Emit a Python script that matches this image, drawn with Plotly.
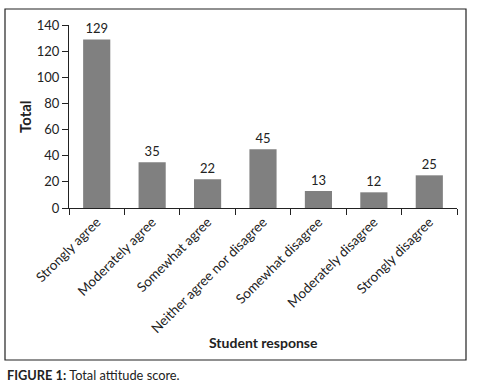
import plotly.graph_objects as go

categories = ["Strongly agree", "Moderately agree", "Somewhat agree",
              "Neither agree nor disagree", "Somewhat disagree",
              "Moderately disagree", "Strongly disagree"]
totals = [129, 35, 22, 45, 13, 12, 25]
y_ticks = [0, 20, 40, 60, 80, 100, 120, 140]

FONT = "Lato, Open Sans, sans-serif"
W, H = 480, 388
L, R, T, B = 69, 23, 25, 180
pw, ph = W - L - R, H - T - B

def px(x):
    return (x - L) / pw

def py(y):
    return (H - B - y) / ph

fig = go.Figure(go.Bar(
    x=categories, y=totals, width=0.49,
    marker=dict(color="#808080", line=dict(width=0)),
    text=[str(v) for v in totals], textposition="outside",
    textfont=dict(family=FONT, size=13, color="#222"),
    cliponaxis=False,
))

fig.update_layout(
    width=W, height=H,
    margin=dict(l=L, r=R, t=T, b=B, autoexpand=False),
    paper_bgcolor="white", plot_bgcolor="white",
    font=dict(family=FONT, size=11, color="#222"),
    showlegend=False,
    xaxis=dict(
        showline=True, linecolor="#222", linewidth=1,
        ticks="outside", ticklen=6, tickcolor="#222", tickson="boundaries",
        tickangle=-45, tickfont=dict(size=13.5, family=FONT, color="#222"),
        showgrid=False, automargin=False,
    ),
    yaxis=dict(
        range=[0, 140], tickvals=y_ticks,
        showline=True, linecolor="#222", linewidth=1,
        ticks="outside", ticklen=6, tickcolor="#222",
        tickfont=dict(size=13, family=FONT, color="#222"),
        showgrid=False, zeroline=False, automargin=False,
    ),
    shapes=[dict(type="rect", xref="paper", yref="paper", layer="above",
                 x0=px(5), x1=px(466), y0=py(360), y1=py(9),
                 line=dict(color="#222", width=1.2))],
    annotations=[
        dict(text="<b>Total</b>", xref="paper", yref="paper",
             x=px(25), y=py(117), textangle=-90, showarrow=False,
             font=dict(size=15, family=FONT, color="#222"),
             xanchor="center", yanchor="middle"),
        dict(text="<b>Student response</b>", xref="paper", yref="paper",
             x=px(263), y=py(342), showarrow=False,
             font=dict(size=14, family=FONT, color="#222"),
             xanchor="center", yanchor="middle"),
        dict(text="<b>FIGURE 1:</b> Total attitude score.", xref="paper", yref="paper",
             x=px(5), y=py(375), showarrow=False,
             font=dict(size=12.8, family=FONT, color="#222"),
             xanchor="left", yanchor="middle"),
    ],
)

fig.write_html("out.html", config={"displayModeBar": False},
               post_script="document.body.style.margin='0';")
